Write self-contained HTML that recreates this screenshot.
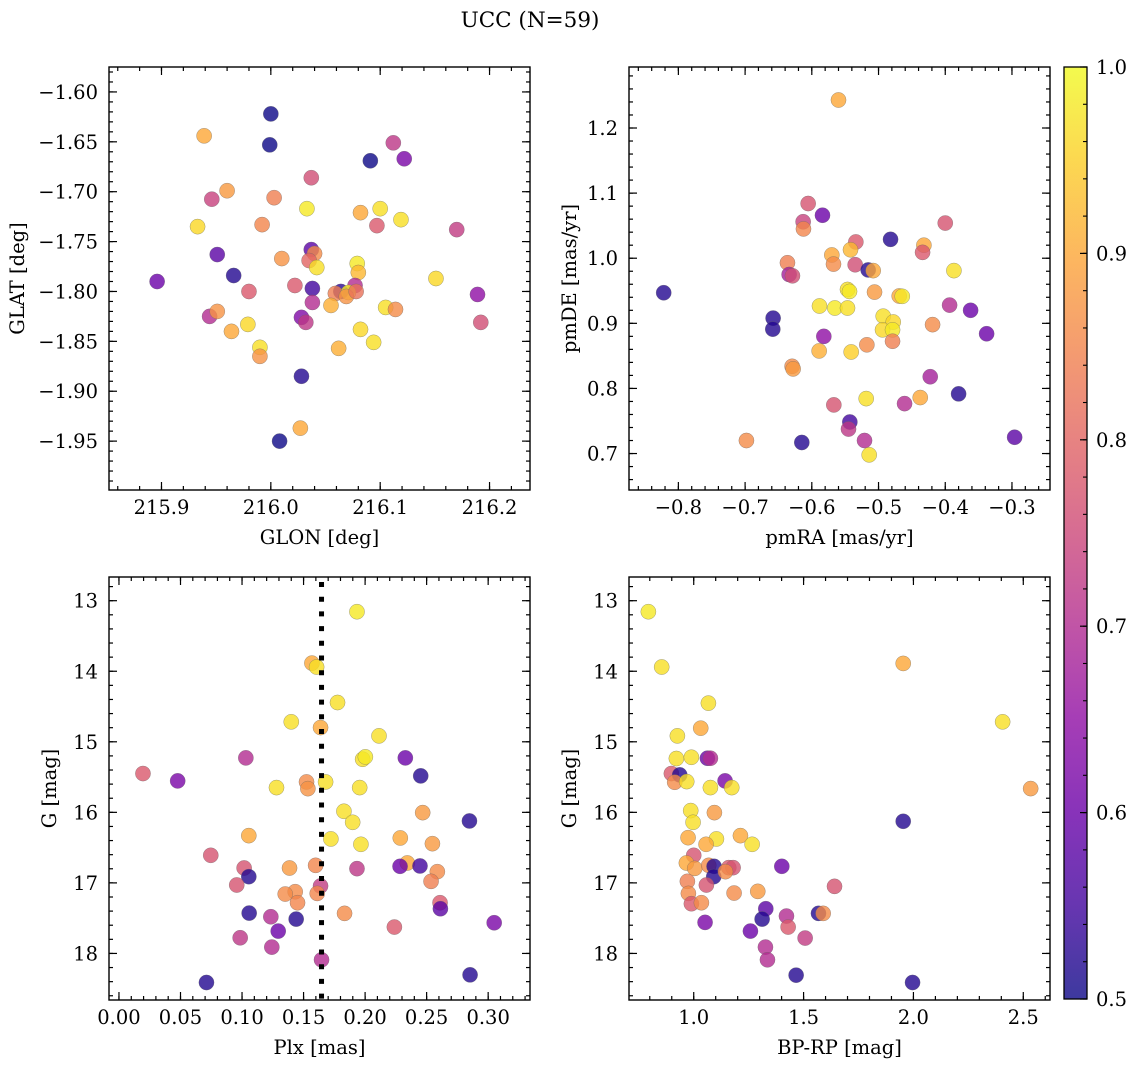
<!DOCTYPE html>
<html><head><meta charset="utf-8">
<style>
html,body{margin:0;padding:0;background:#fff;}
svg{display:block;font-family:"DejaVu Serif","Liberation Serif",serif;}
</style></head>
<body>
<svg id="fig" width="1136" height="1067" viewBox="0 0 1136 1067" xmlns="http://www.w3.org/2000/svg">
<text x="530" y="27" font-size="21.5" text-anchor="middle">UCC (N=59)</text>
</svg>
<script>
// ---- Panel 1: GLON vs GLAT ----
const glon = [216.000,215.939,215.999,216.112,216.091,216.122,216.037,215.946,215.960,216.003,216.033,216.082,216.100,216.119,216.097,215.933,215.992,216.170,216.037,216.040,216.035,216.042,215.951,216.010,216.079,216.080,215.896,215.966,216.151,215.980,216.022,216.038,216.077,216.064,216.059,216.071,216.069,216.078,216.189,216.038,215.944,215.951,216.028,216.032,216.055,216.105,216.114,216.192,215.964,215.979,216.082,216.094,215.990,215.990,216.062,216.028,216.027,216.008];
const glat = [-1.622,-1.644,-1.653,-1.651,-1.669,-1.667,-1.686,-1.7075,-1.699,-1.706,-1.717,-1.721,-1.717,-1.728,-1.734,-1.735,-1.733,-1.738,-1.758,-1.762,-1.769,-1.776,-1.763,-1.767,-1.772,-1.781,-1.790,-1.784,-1.787,-1.800,-1.794,-1.797,-1.794,-1.800,-1.802,-1.801,-1.805,-1.800,-1.803,-1.811,-1.825,-1.820,-1.826,-1.831,-1.814,-1.816,-1.818,-1.831,-1.840,-1.833,-1.838,-1.851,-1.856,-1.865,-1.857,-1.885,-1.937,-1.950];
const c1 = [0.5,0.9,0.5,0.72,0.5,0.62,0.76,0.74,0.88,0.84,0.98,0.9,0.97,0.97,0.78,0.96,0.85,0.73,0.58,0.86,0.8,0.97,0.58,0.87,0.98,0.92,0.6,0.52,0.96,0.78,0.78,0.55,0.7,0.53,0.84,0.98,0.87,0.82,0.65,0.7,0.7,0.87,0.63,0.72,0.91,0.97,0.86,0.76,0.9,0.96,0.96,0.97,0.97,0.87,0.91,0.52,0.9,0.5];
const xt1 = [215.9,216.0,216.1,216.2];
const xtl1 = ["215.9","216.0","216.1","216.2"];
const yt1 = [-1.60,-1.65,-1.70,-1.75,-1.80,-1.85,-1.90,-1.95];
const ytl1 = ["\u22121.60","\u22121.65","\u22121.70","\u22121.75","\u22121.80","\u22121.85","\u22121.90","\u22121.95"];

// ---- Panel 2: pmRA vs pmDE ----
const pmra = [-0.56,-0.6055,-0.584,-0.613,-0.6125,-0.40,-0.482,-0.534,-0.542,-0.570,-0.432,-0.434,-0.6365,-0.5675,-0.535,-0.5155,-0.508,-0.387,-0.634,-0.629,-0.822,-0.5465,-0.5435,-0.506,-0.469,-0.4645,-0.5885,-0.5655,-0.5465,-0.3935,-0.362,-0.658,-0.6585,-0.493,-0.478,-0.494,-0.479,-0.419,-0.338,-0.582,-0.479,-0.5175,-0.589,-0.541,-0.6295,-0.628,-0.4225,-0.38,-0.4375,-0.5185,-0.567,-0.461,-0.543,-0.545,-0.698,-0.615,-0.521,-0.296,-0.514];
const pmde = [1.243,1.084,1.066,1.056,1.045,1.054,1.029,1.025,1.013,1.005,1.020,1.009,0.993,0.991,0.990,0.982,0.981,0.981,0.975,0.973,0.947,0.952,0.949,0.948,0.942,0.9415,0.9266,0.9235,0.9235,0.928,0.920,0.908,0.891,0.911,0.902,0.890,0.890,0.898,0.884,0.880,0.8725,0.867,0.8576,0.856,0.834,0.830,0.818,0.7917,0.786,0.7844,0.7747,0.7767,0.7484,0.7376,0.720,0.717,0.720,0.725,0.698];
const c2 = [0.9,0.77,0.6,0.74,0.85,0.77,0.52,0.78,0.92,0.9,0.9,0.78,0.84,0.86,0.76,0.52,0.9,0.97,0.68,0.76,0.52,0.97,0.98,0.88,0.9,0.98,0.97,0.98,0.97,0.7,0.6,0.52,0.52,0.97,0.96,0.96,0.98,0.86,0.6,0.65,0.84,0.86,0.91,0.95,0.86,0.88,0.68,0.52,0.9,0.97,0.77,0.7,0.55,0.72,0.86,0.52,0.7,0.58,0.97];
const xt2 = [-0.8,-0.7,-0.6,-0.5,-0.4,-0.3];
const xtl2 = ["\u22120.8","\u22120.7","\u22120.6","\u22120.5","\u22120.4","\u22120.3"];
const yt2 = [0.7,0.8,0.9,1.0,1.1,1.2];
const ytl2 = ["0.7","0.8","0.9","1.0","1.1","1.2"];

// ---- Panel 3: Plx vs G ----
const plx = [0.1934,0.1568,0.1606,0.1776,0.14,0.1638,0.2113,0.1031,0.198,0.2002,0.2327,0.0195,0.0477,0.2452,0.1524,0.1535,0.1679,0.128,0.1956,0.1828,0.2468,0.1899,0.2848,0.1055,0.1722,0.2286,0.1966,0.2547,0.0746,0.2343,0.1017,0.1934,0.2284,0.2446,0.1598,0.1386,0.2587,0.1055,0.2536,0.0957,0.1638,0.1432,0.1351,0.1611,0.1451,0.2609,0.2612,0.1058,0.1833,0.1234,0.144,0.3049,0.1294,0.2238,0.0985,0.1242,0.1646,0.2853,0.0711];
const g3 = [13.156,13.885,13.94,14.443,14.717,14.798,14.916,15.228,15.247,15.214,15.228,15.45,15.554,15.483,15.569,15.664,15.569,15.649,15.649,15.985,16.004,16.141,16.122,16.33,16.377,16.363,16.453,16.444,16.609,16.718,16.789,16.798,16.765,16.76,16.751,16.789,16.841,16.912,16.978,17.03,17.044,17.125,17.158,17.149,17.281,17.281,17.366,17.428,17.432,17.48,17.513,17.565,17.683,17.626,17.778,17.91,18.09,18.303,18.412];
const c3 = [0.98,0.9,0.97,0.97,0.97,0.9,0.97,0.7,0.97,0.98,0.6,0.78,0.62,0.52,0.86,0.87,0.97,0.97,0.97,0.97,0.88,0.97,0.52,0.9,0.97,0.9,0.97,0.88,0.77,0.9,0.77,0.72,0.6,0.55,0.85,0.88,0.86,0.52,0.84,0.77,0.73,0.86,0.86,0.85,0.85,0.78,0.58,0.52,0.86,0.7,0.52,0.62,0.6,0.78,0.72,0.7,0.7,0.52,0.52];
const plxMedian = [0.1646];
const xt3 = [0.00,0.05,0.10,0.15,0.20,0.25,0.30];
const xtl3 = ["0.00","0.05","0.10","0.15","0.20","0.25","0.30"];
const yt3 = [13,14,15,16,17,18];
const ytl3 = ["13","14","15","16","17","18"];

// ---- Panel 4: BP-RP vs G ----
const bprp = [0.7935,0.8542,1.9535,1.0668,2.406,1.0319,0.9256,0.921,0.9894,1.0623,1.0759,0.8983,0.9362,0.9134,0.9681,1.1427,1.0759,1.1731,2.5336,0.9863,1.0941,0.997,1.9535,0.9742,1.1033,1.2126,1.0562,1.2657,1.0,0.9666,1.0046,1.0683,1.0926,1.1594,1.1792,1.4009,1.0911,1.1443,0.9711,1.0577,1.6408,0.9757,1.1837,1.2915,0.9894,1.0349,1.328,1.5679,1.5891,1.3113,1.4221,1.0516,1.4297,1.2581,1.5071,1.3264,1.3356,1.4661,1.996];
const g4 = [13.156,13.94,13.889,14.452,14.717,14.807,14.916,15.237,15.219,15.233,15.233,15.45,15.469,15.573,15.564,15.554,15.649,15.649,15.663,15.975,16.004,16.141,16.127,16.359,16.377,16.33,16.453,16.453,16.609,16.718,16.794,16.751,16.765,16.784,16.784,16.765,16.912,16.841,16.978,17.03,17.049,17.149,17.144,17.12,17.295,17.281,17.366,17.432,17.432,17.513,17.47,17.56,17.626,17.683,17.782,17.91,18.09,18.308,18.412];
const c4 = [0.98,0.97,0.9,0.97,0.97,0.9,0.97,0.97,0.97,0.6,0.7,0.78,0.52,0.86,0.97,0.62,0.97,0.97,0.88,0.97,0.88,0.97,0.52,0.9,0.97,0.9,0.9,0.97,0.77,0.9,0.88,0.86,0.52,0.78,0.77,0.6,0.52,0.86,0.84,0.77,0.77,0.86,0.86,0.88,0.78,0.86,0.58,0.52,0.86,0.52,0.7,0.62,0.78,0.6,0.73,0.7,0.7,0.52,0.52];
const xt4 = [1.0,1.5,2.0,2.5];
const xtl4 = ["1.0","1.5","2.0","2.5"];

// ---- colorbar ----
const cbTicks = [0.5,0.6,0.7,0.8,0.9,1.0];
const cbLabels = ["0.5","0.6","0.7","0.8","0.9","1.0"];

const NS = "http://www.w3.org/2000/svg";
const svg = document.getElementById('fig');
const FS = 19.5;
function mk(tag, attrs, parent){
  const e = document.createElementNS(NS, tag);
  for (const k in attrs) e.setAttribute(k, attrs[k]);
  (parent||svg).appendChild(e);
  return e;
}
const stops = ["#0d0887","#41049d","#6a00a8","#8f0da4","#b12a90","#cc4778","#e16462","#f2844b","#fca636","#fcce25","#f0f921"];
function hex(h){return [parseInt(h.substr(1,2),16),parseInt(h.substr(3,2),16),parseInt(h.substr(5,2),16)];}
function plasma(v){
  let t = Math.max(0, Math.min(1, (v-0.5)/0.5));
  const p = t*10, i = Math.min(9, Math.floor(p)), f = p - i;
  const a = hex(stops[i]), b = hex(stops[i+1]);
  return "rgb("+[0,1,2].map(k=>Math.round(a[k]+(b[k]-a[k])*f)).join(",")+")";
}

function panel(name, box, xr, yr, xs, ys, cs, xt, xtl, yt, ytl, xminor, yminor, xlab, ylab, invertY, ytitleX){
  const [L,T,R,B] = box;
  const sx = v => L + (v - xr[0])/(xr[1]-xr[0])*(R-L);
  const sy = invertY ? (v => T + (v - yr[0])/(yr[1]-yr[0])*(B-T)) : (v => B - (v - yr[0])/(yr[1]-yr[0])*(B-T));
  const g = mk('g', {});
  
  
  const pts = mk('g', {}, g);
  
  
  for (let i=0;i<xs.length;i++){
    const c = mk('circle', {cx: sx(xs[i]), cy: sy(ys[i]), r: 7.6, fill: plasma(cs[i]), 'fill-opacity': 0.8, stroke: '#666', 'stroke-width': 0.5, 'stroke-opacity': 0.6}, pts);
    
    
  }
  const tk = mk('g', {stroke:'#000','stroke-width':1.2}, g);
  
  
  const minorX = [], minorY = [];
  const xa = Math.ceil(xr[0]/xminor - 1e-6), xb = Math.floor(xr[1]/xminor + 1e-6);
  for (let k=xa;k<=xb;k++) minorX.push(k*xminor);
  const ya = Math.ceil(Math.min(yr[0],yr[1])/yminor - 1e-6), yb = Math.floor(Math.max(yr[0],yr[1])/yminor + 1e-6);
  for (let k=ya;k<=yb;k++) minorY.push(k*yminor);
  minorX.forEach(v=>{const x=sx(v); mk('line',{x1:x,x2:x,y1:B,y2:B-4},tk); mk('line',{x1:x,x2:x,y1:T,y2:T+4},tk);});
  minorY.forEach(v=>{const y=sy(v); mk('line',{x1:L,x2:L+4,y1:y,y2:y},tk); mk('line',{x1:R,x2:R-4,y1:y,y2:y},tk);});
  xt.forEach((v,i)=>{const x=sx(v); mk('line',{x1:x,x2:x,y1:B,y2:B-8},tk); mk('line',{x1:x,x2:x,y1:T,y2:T+8},tk);
    const t=mk('text',{x:x,y:B+24,'font-size':FS,'text-anchor':'middle'},g); t.textContent=xtl[i];
     });
  yt.forEach((v,i)=>{const y=sy(v); mk('line',{x1:L,x2:L+8,y1:y,y2:y},tk); mk('line',{x1:R,x2:R-8,y1:y,y2:y},tk);
    const t=mk('text',{x:L-11,y:y+7,'font-size':FS,'text-anchor':'end'},g); t.textContent=ytl[i];
     });
  const fr = mk('rect',{x:L,y:T,width:R-L,height:B-T,fill:'none',stroke:'#000','stroke-width':1.4},g);
   
  const xl = mk('text',{x:(L+R)/2,y:B+54,'font-size':FS,'text-anchor':'middle'},g); xl.textContent=xlab;
   
  const ylx = ytitleX;
  const yl = mk('text',{x:ylx,y:(T+B)/2,'font-size':FS,'text-anchor':'middle',transform:'rotate(-90 '+ylx+' '+((T+B)/2)+')'},g); yl.textContent=ylab;
   
  return {sx, sy, g, T, B};
}

panel('glon-glat-panel',[109,67,530,490],[215.852,216.237],[-1.575,-1.999],glon,glat,c1,xt1,xtl1,yt1,ytl1,0.02,0.01,'GLON [deg]','GLAT [deg]',true,24);
panel('pm-panel',[629,67,1050,490],[-0.874,-0.243],[0.644,1.2937],pmra,pmde,c2,xt2,xtl2,yt2,ytl2,0.02,0.02,'pmRA [mas/yr]','pmDE [mas/yr]',false,576);
const p3 = panel('plx-g-panel',[109,577,530,1000],[-0.0081,0.334],[12.664,18.66],plx,g3,c3,xt3,xtl3,yt3,ytl3,0.01,0.2,'Plx [mas]','G [mag]',true,56);
panel('cmd-panel',[629,577,1050,1000],[0.7054,2.6216],[12.664,18.66],bprp,g4,c4,xt4,xtl4,yt3,ytl3,0.1,0.2,'BP-RP [mag]','G [mag]',true,576);

const mx = p3.sx(plxMedian[0]);
const ml = mk('line',{x1:mx,x2:mx,y1:p3.T+5,y2:p3.B,stroke:'#000','stroke-width':5,'stroke-dasharray':'5 9.7'},p3.g);



const cb = mk('g',{});


const defs = mk('defs',{},cb);
const lg = mk('linearGradient',{id:'cbg',x1:0,y1:1,x2:0,y2:0},defs);
for (let i=0;i<=20;i++){ mk('stop',{offset:(i/20),'stop-color':plasma(0.5+0.5*i/20),'stop-opacity':0.8},lg); }
const CT=67, CB=999, CL=1064, CR=1087;
const cr = mk('rect',{x:CL,y:CT,width:CR-CL,height:CB-CT,fill:'url(#cbg)',stroke:'#000','stroke-width':1.3},cb);


const cy = v => CB - (v-0.5)/0.5*(CB-CT);
for (let k=25;k<=50;k++){ const v=k*0.02; const y=cy(v); mk('line',{x1:CR,x2:CR-4,y1:y,y2:y,stroke:'#000','stroke-width':1.1},cb); }
cbTicks.forEach((v,i)=>{const y=cy(v); mk('line',{x1:CR,x2:CR-7,y1:y,y2:y,stroke:'#000','stroke-width':1.2},cb);
  const t=mk('text',{x:CR+9,y:y+7,'font-size':FS},cb); t.textContent=cbLabels[i];
   });
</script>
</body></html>
